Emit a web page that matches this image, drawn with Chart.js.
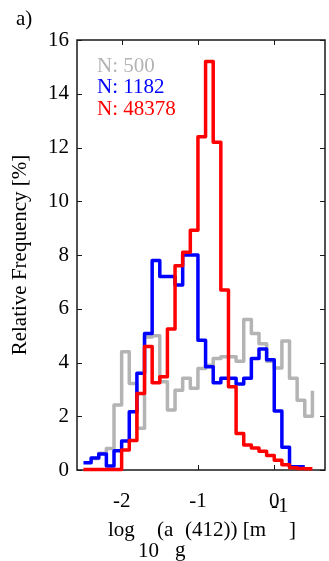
<!DOCTYPE html>
<html>
<head>
<meta charset="utf-8">
<script src="https://cdn.jsdelivr.net/npm/chart.js@4.4.1/dist/chart.umd.min.js"></script>
<style>
  html, body { margin: 0; padding: 0; background: #fff; }
  canvas { display: block; }
</style>
</head>
<body>
<canvas id="hist" width="329" height="561"></canvas>
<script>
// left edges of the 0.1-wide log10 bins (last entry closes the final bin)
const binEdges = [-2.5, -2.4, -2.3, -2.2, -2.1, -2.0, -1.9, -1.8, -1.7, -1.6,
                  -1.5, -1.4, -1.3, -1.2, -1.1, -1.0, -0.9, -0.8, -0.7, -0.6,
                  -0.5, -0.4, -0.3, -0.2, -0.1, 0.0, 0.1, 0.2, 0.3, 0.4, 0.5]

// relative frequency [%] per bin
const freqN500 = [null, 0.43, 0.62, 0.8, 2.42, 4.4, 3.22, 1.55, 4.95, 5.0,
                  3.28, 2.23, 2.97, 3.41, 3.04, 3.78, 3.9, 4.15, 4.21, 4.21,
                  4.05, 5.6, 5.08, 4.7, 4.05, 3.8, 4.8, 3.41, 2.6, 2.0, 2.95]
const freqN1182 = [0.27, 0.45, 0.6, 0.15, 0.72, 1.08, 2.17, 3.6, 5.08, 7.8,
                   7.2, 7.2, 6.88, 8.0, 8.0, 4.83, 3.84, 3.25, 3.41, 3.41,
                   3.2, 3.41, 4.15, 4.5, 4.1, 2.2, 0.85, 0.12, 0.12, 0.12, null]
const freqN48378 = [0.02, 0.02, 0.02, 0.02, 0.02, 0.74, 1.1, 2.85, 4.6, 3.25,
                    3.47, 5.25, 7.6, 8.1, 8.92, 12.4, 15.2, 12.2, 6.7, 3.1,
                    1.36, 0.93, 0.82, 0.7, 0.54, 0.36, 0.2, 0.08, 0.06, 0.05, 0.05]

const sampleSizes = [500, 1182, 48378]
const seriesColors = ['#b4b4b4', '#0000ff', '#ff0000']
const xTickValues = [-2, -1, 0]
const yTickStep = 2

const serif = 'Liberation Serif'

function toPoints(vals){
    var pts = []
    for(var i = 0; i < binEdges.length; i++){
        if(vals[i] !== null) pts.push({x: binEdges[i], y: vals[i]})
    }
    return pts
}

const allSeries = [freqN500, freqN1182, freqN48378]

// box around the plot with inward ticks on all four sides
const boxPlugin = {
    id: 'boxTicks',
    beforeDatasetsDraw(chart){
        const ctx = chart.ctx
        const a = chart.chartArea
        const xs = chart.scales.x, ys = chart.scales.y
        const len = 5
        ctx.save()
        ctx.strokeStyle = '#1a1a1a'
        ctx.lineWidth = 1.5
        ctx.strokeRect(a.left, a.top, a.right - a.left, a.bottom - a.top)
        ctx.lineWidth = 1
        ctx.beginPath()
        xs.ticks.forEach(t => {
            const px = Math.round(xs.getPixelForValue(t.value)) + 0.5
            ctx.moveTo(px, a.bottom); ctx.lineTo(px, a.bottom - len)
            ctx.moveTo(px, a.top); ctx.lineTo(px, a.top + len)
        })
        ys.ticks.forEach(t => {
            const py = Math.round(ys.getPixelForValue(t.value)) + 0.5
            ctx.moveTo(a.left, py); ctx.lineTo(a.left + len, py)
            ctx.moveTo(a.right, py); ctx.lineTo(a.right - len, py)
        })
        ctx.stroke()
        ctx.restore()
    },
    afterDraw(chart){
        const ctx = chart.ctx
        ctx.save()
        ctx.font = '21px "' + serif + '"'
        ctx.textBaseline = 'alphabetic'
        ctx.textAlign = 'left'

        // sample counts, coloured like their lines
        chart.data.datasets.forEach((ds, i) => {
            ctx.fillStyle = ds.borderColor
            ctx.fillText(ds.label, 97, 71.5 + i * 21.5)
        })

        ctx.fillStyle = '#000'
        ctx.fillText('a)', 16, 25)

        // x axis label with sub/superscripts
        const parts = [
            ['log', 108, 536],
            ['10', 138, 557],
            ['(a', 157, 536],
            ['g', 175, 556],
            ['(412)) [m', 185, 536],
            [']', 289, 536],
            ['-1', 271, 512]
        ]
        parts.forEach(p => ctx.fillText(p[0], p[1], p[2]))
        ctx.restore()
    }
}

new Chart(document.getElementById('hist'), {
    type: 'line',
    data: {
        datasets: allSeries.map((vals, i) => ({
            label: 'N: ' + sampleSizes[i],
            data: toPoints(vals),
            borderColor: seriesColors[i],
            backgroundColor: seriesColors[i],
            borderWidth: 3.5,
            borderJoinStyle: 'round',
            stepped: 'before',
            pointRadius: 0,
            fill: false,
            clip: false,
            order: allSeries.length - i
        }))
    },
    options: {
        responsive: false,
        animation: false,
        layout: { padding: { left: 0, top: 40, right: 4, bottom: 0 } },
        plugins: {
            legend: { display: false },
            tooltip: { enabled: false }
        },
        scales: {
            x: {
                type: 'linear',
                min: -2.585,
                max: 0.665,
                afterFit(scale){ scale.height = 91 },
                afterBuildTicks(scale){
                    scale.ticks = xTickValues.map(v => ({value: v}))
                },
                grid: { display: false, drawTicks: false },
                border: { display: false },
                ticks: {
                    padding: 19,
                    color: '#000',
                    font: { family: serif, size: 21 },
                    maxRotation: 0,
                    callback: v => String(v)
                }
            },
            y: {
                min: 0,
                max: 16,
                afterFit(scale){ scale.width = 77 },
                grid: { display: false, drawTicks: false },
                border: { display: false },
                ticks: {
                    stepSize: yTickStep,
                    padding: 8,
                    color: '#000',
                    font: { family: serif, size: 21 }
                },
                title: {
                    display: true,
                    text: 'Relative Frequency [%]',
                    color: '#000',
                    font: { family: serif, size: 21 },
                    padding: { top: 8, bottom: 0 }
                }
            }
        }
    },
    plugins: [boxPlugin]
})
</script>
</body>
</html>
